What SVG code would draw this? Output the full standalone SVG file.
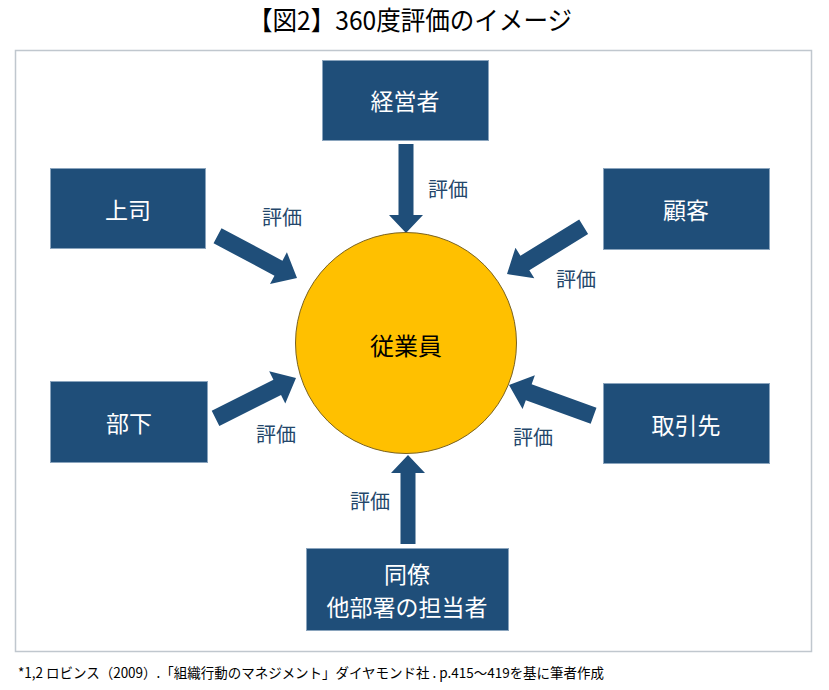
<svg xmlns="http://www.w3.org/2000/svg" xmlns:xlink="http://www.w3.org/1999/xlink" width="829" height="690" viewBox="0 0 829 690">
<style>
.box{fill:#1f4e79;stroke:#8aa4bd;stroke-width:1}
.bt{fill:#ffffff;font-family:"Noto Sans CJK JP","Noto Sans",sans-serif;font-size:23px;text-anchor:middle;dominant-baseline:central}
.lbl{fill:#24476b;font-family:"Noto Sans CJK JP","Noto Sans",sans-serif;font-size:20px;text-anchor:middle;dominant-baseline:central}
.arr{fill:#1f4e79}
</style>
<defs>
<path id="ar" d="M-89,-7.5 L-18,-7.5 L-18,-17 L0,0 L-18,17 L-18,7.5 L-89,7.5 Z"/>
<path id="ard" d="M-90,-8.5 L-21,-8.5 L-21,-18 L0,0 L-21,18 L-21,8.5 L-90,8.5 Z"/>
</defs>
<rect width="829" height="690" fill="#ffffff"/>
<text x="410" y="30" font-family="'Noto Sans CJK JP',sans-serif" font-size="26" text-anchor="middle" textLength="324" lengthAdjust="spacingAndGlyphs" fill="#000">【図2】360度評価のイメージ</text>
<rect x="15.5" y="50.5" width="796" height="601" fill="none" stroke="#c0c7ce" stroke-width="1.5"/>
<g id="connectors" class="arr">
<use xlink:href="#ar" transform="translate(406,233) rotate(90)"/>
<use xlink:href="#ar" transform="translate(408,455) rotate(-90)"/>
<use xlink:href="#ard" transform="translate(297,278) rotate(28)"/>
<use xlink:href="#ard" transform="translate(507,274) rotate(148.4)"/>
<use xlink:href="#ard" transform="translate(296,378) rotate(-26.6)"/>
<use xlink:href="#ard" transform="translate(509,385) rotate(200)"/>
</g>
<g id="labels">
<text class="lbl" x="448" y="188">評価</text>
<text class="lbl" x="282" y="216">評価</text>
<text class="lbl" x="576" y="278">評価</text>
<text class="lbl" x="276" y="433">評価</text>
<text class="lbl" x="533" y="436">評価</text>
<text class="lbl" x="370" y="500">評価</text>
</g>
<g id="employee">
<circle cx="406" cy="343" r="110.5" fill="#ffc000" stroke="#7a6220" stroke-width="1"/>
<text x="406" y="344" font-family="'Noto Sans CJK JP',sans-serif" font-size="24" text-anchor="middle" dominant-baseline="central" fill="#000">従業員</text>
</g>
<g id="keieisha"><rect class="box" x="322.5" y="60.5" width="166" height="80"/><text class="bt" x="405" y="100">経営者</text></g>
<g id="joushi"><rect class="box" x="50.5" y="168.5" width="155" height="80"/><text class="bt" x="128" y="209">上司</text></g>
<g id="kokyaku"><rect class="box" x="603.5" y="168.5" width="166" height="81"/><text class="bt" x="686" y="209">顧客</text></g>
<g id="buka"><rect class="box" x="50.5" y="381.5" width="157" height="81"/><text class="bt" x="129" y="422">部下</text></g>
<g id="torihikisaki"><rect class="box" x="603.5" y="383.5" width="166" height="80"/><text class="bt" x="686" y="424">取引先</text></g>
<g id="douryou"><rect class="box" x="306.5" y="548.5" width="202" height="82"/><text class="bt" x="407" y="573" font-size="22">同僚</text><text class="bt" x="407" y="606" font-size="22">他部署の担当者</text></g>
<text x="18" y="678" font-family="'Noto Sans CJK JP',sans-serif" font-size="14" textLength="586" lengthAdjust="spacingAndGlyphs" fill="#000">*1,2 ロビンス（2009）.「組織行動のマネジメント」ダイヤモンド社 . p.415～419を基に筆者作成</text>
</svg>
